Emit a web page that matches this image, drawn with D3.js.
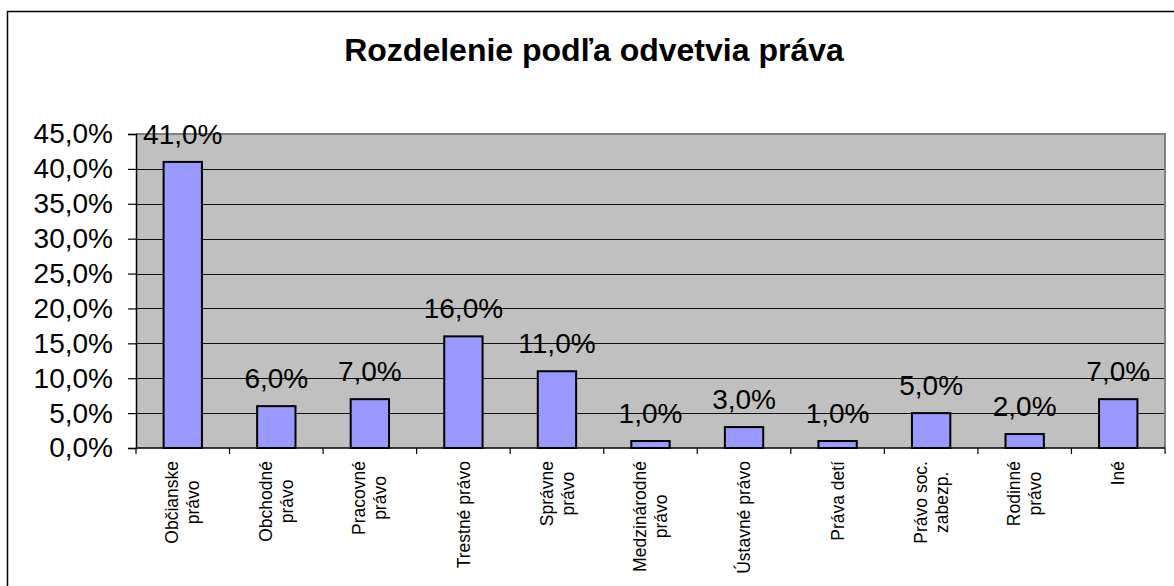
<!DOCTYPE html>
<html>
<head>
<meta charset="utf-8">
<script src="https://cdn.jsdelivr.net/npm/d3@7"></script>
<style>
  html, body { margin: 0; padding: 0; background: #fff; }
  svg { display: block; font-family: Arial, "Liberation Sans", sans-serif; }
</style>
</head>
<body>
<svg id="chart" width="1174" height="586"></svg>
<script>
const title = "Rozdelenie podľa odvetvia práva";
const categories = [
  ["Občianske", "právo"],
  ["Obchodné", "právo"],
  ["Pracovné", "právo"],
  ["Trestné právo"],
  ["Správne", "právo"],
  ["Medzinárodné", "právo"],
  ["Ústavné právo"],
  ["Práva detí"],
  ["Právo soc.", "zabezp."],
  ["Rodinné", "právo"],
  ["Iné"]
];
const values = [41, 6, 7, 16, 11, 1, 3, 1, 5, 2, 7];
const yTicks = [0, 5, 10, 15, 20, 25, 30, 35, 40, 45];

const fmt = v => v.toFixed(1).replace(".", ",") + "%";

const svg = d3.select("#chart");
const W = 1174, H = 586;
const plot = { left: 136, right: 1165, top: 134, bottom: 448 };

// outer frame
svg.append("rect")
  .attr("x", 7.5).attr("y", 11.5)
  .attr("width", W + 20).attr("height", H + 20)
  .attr("fill", "#fff").attr("stroke", "#000").attr("stroke-width", 1.5);

// title
svg.append("text")
  .attr("x", 594).attr("y", 61)
  .attr("text-anchor", "middle")
  .attr("font-size", 32).attr("font-weight", "bold")
  .attr("fill", "#000")
  .text(title);

const xb = d3.scaleBand()
  .domain(d3.range(categories.length))
  .range([plot.left, plot.right]);

const y = d3.scaleLinear().domain([0, 45]).range([plot.bottom, plot.top]);

// plot background
svg.append("rect")
  .attr("x", plot.left).attr("y", plot.top)
  .attr("width", plot.right - plot.left).attr("height", plot.bottom - plot.top)
  .attr("fill", "#C0C0C0");

// gridlines
svg.append("g").selectAll("line")
  .data(yTicks.filter(t => t > 0 && t < 45))
  .join("line")
  .attr("x1", plot.left).attr("x2", plot.right)
  .attr("y1", d => Math.round(y(d)) + 0.5).attr("y2", d => Math.round(y(d)) + 0.5)
  .attr("stroke", "#111").attr("stroke-width", 1);

// plot top/right border
svg.append("path")
  .attr("d", `M${plot.left},${plot.top} H${plot.right} V${plot.bottom}`)
  .attr("fill", "none").attr("stroke", "#808080").attr("stroke-width", 2);

// bars
const barW = xb.bandwidth() * 0.41;
svg.append("g").selectAll("rect")
  .data(values)
  .join("rect")
  .attr("x", (d, i) => xb(i) + xb.bandwidth() / 2 - barW / 2)
  .attr("width", barW)
  .attr("y", d => y(d))
  .attr("height", d => plot.bottom - y(d))
  .attr("fill", "#9999FF")
  .attr("stroke", "#000").attr("stroke-width", 2);

// data labels
svg.append("g").selectAll("text")
  .data(values)
  .join("text")
  .attr("x", (d, i) => xb(i) + xb.bandwidth() / 2)
  .attr("y", d => y(d) - 18)
  .attr("text-anchor", "middle")
  .attr("font-size", 28).attr("fill", "#000")
  .text(d => fmt(d));

// y axis
const yAxis = d3.axisLeft(y).tickValues(yTicks).tickSize(8).tickFormat(fmt);
const gy = svg.append("g").attr("transform", `translate(${plot.left},0)`).call(yAxis);
gy.select(".domain").attr("stroke", "#000").attr("stroke-width", 1.5);
gy.selectAll(".tick line").attr("stroke", "#000").attr("stroke-width", 1.2);
gy.selectAll(".tick text")
  .attr("x", -23).attr("font-size", 28).attr("fill", "#000")
  .attr("font-family", "Arial, 'Liberation Sans', sans-serif");

// x axis line and ticks
const gx = svg.append("g");
gx.append("line")
  .attr("x1", plot.left).attr("x2", plot.right)
  .attr("y1", plot.bottom).attr("y2", plot.bottom)
  .attr("stroke", "#000").attr("stroke-width", 1.5);
gx.selectAll("line.tk")
  .data(d3.range(categories.length + 1))
  .join("line").attr("class", "tk")
  .attr("x1", i => plot.left + i * xb.step()).attr("x2", i => plot.left + i * xb.step())
  .attr("y1", plot.bottom).attr("y2", plot.bottom + 6)
  .attr("stroke", "#000").attr("stroke-width", 1.2);

// category labels (rotated)
const labelTop = 461;
const lh = 21;
const fs = 17.5;
categories.forEach((lines, i) => {
  const cx = xb(i) + xb.bandwidth() / 2;
  const g = svg.append("g");
  const texts = lines.map(l => g.append("text")
    .attr("font-size", fs).attr("fill", "#000")
    .attr("text-anchor", "middle")
    .text(l));
  const maxW = d3.max(texts, t => t.node().getComputedTextLength());
  const cy = labelTop + maxW / 2;
  const n = lines.length;
  texts.forEach((t, j) => {
    const off = (j - (n - 1) / 2) * lh + fs * 0.35;
    t.attr("transform", `translate(${cx + off},${cy}) rotate(-90)`);
  });
});
</script>
</body>
</html>
